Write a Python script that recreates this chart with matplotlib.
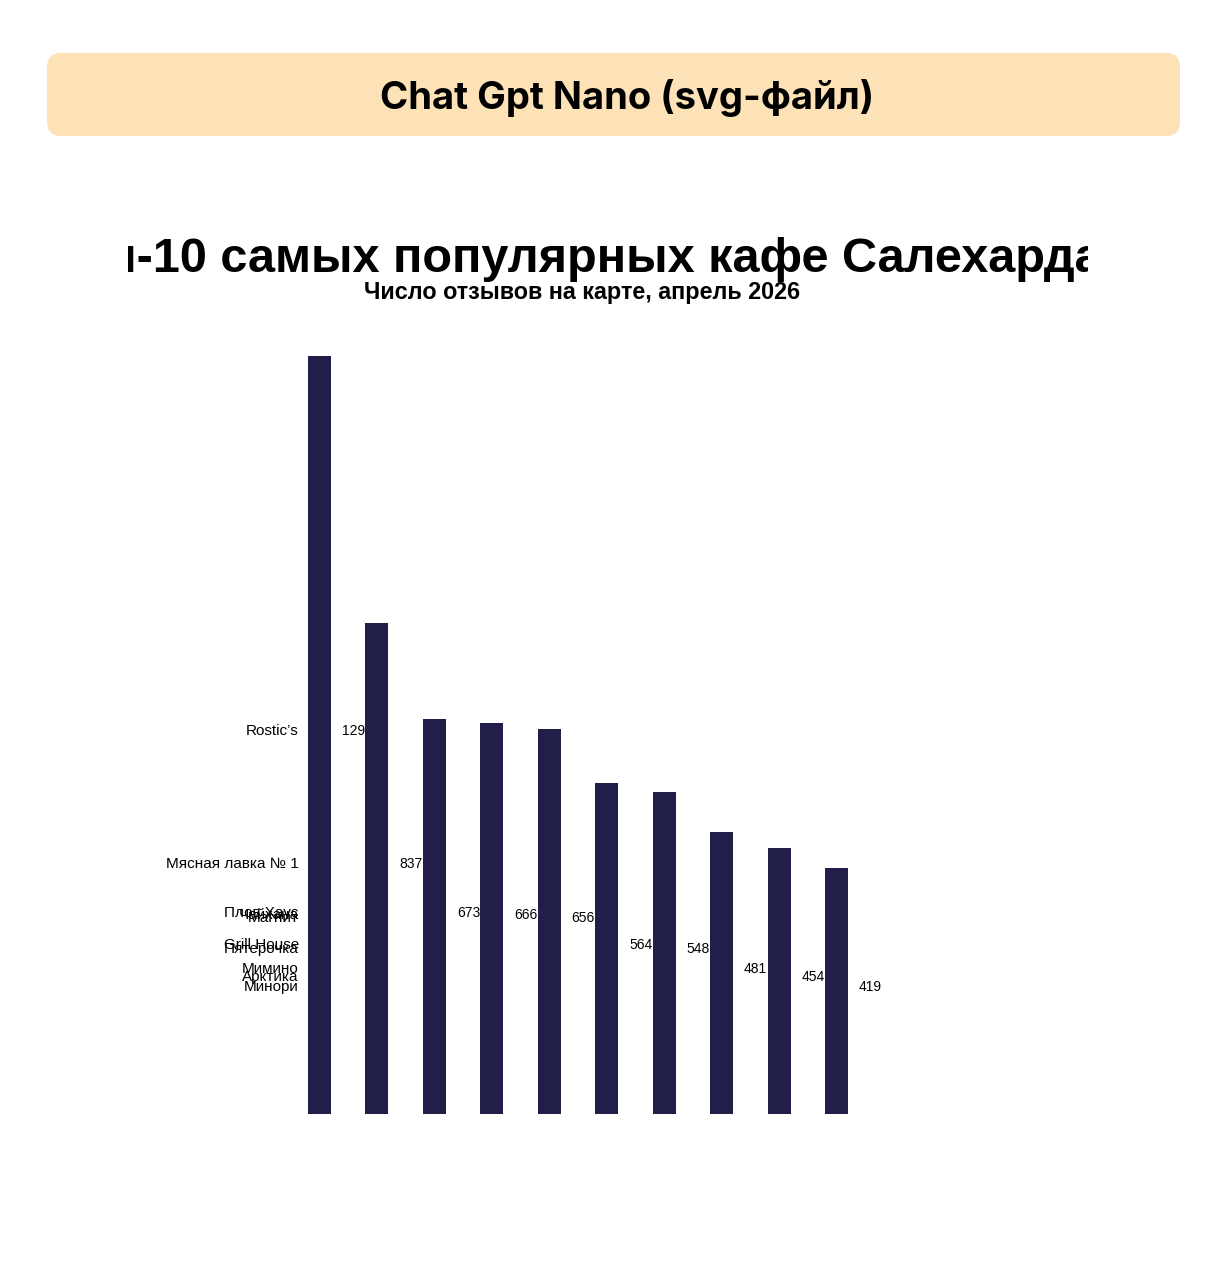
import matplotlib.pyplot as plt
import matplotlib.transforms as mtransforms
from matplotlib.patches import FancyBboxPatch

names = ['Rostic\u2019s', 'Мясная лавка № 1', 'Плов Хаус', 'Чайхана', 'Магнит',
         'Grill House', 'Пятерочка', 'Мимино', 'Арктика', 'Минори']
values = [1292, 837, 673, 666, 656, 564, 548, 481, 454, 419]

header = 'Chat Gpt Nano (svg-файл)'
title = 'Топ-10 самых популярных кафе Салехарда'
subtitle = 'Число отзывов на карте, апрель 2026'

W, H = 1227, 1280
fig = plt.figure(figsize=(W / 100, H / 100), dpi=100)
fig.patch.set_facecolor('white')
px = mtransforms.IdentityTransform()

# header box
box = FancyBboxPatch((47, H - 136), 1133, 83, boxstyle='round,pad=0,rounding_size=14',
                     transform=px, facecolor='#fde2b8', edgecolor='none')
fig.patches.append(box)
fig.text(627 / W, 1 - 98 / H, header, ha='center', va='center', fontsize=27.5,
         fontweight='bold', family=['Inter', 'DejaVu Sans'], color='black')

# clipped chart title
tax = fig.add_axes([128 / W, 1 - 290 / H, 960 / W, 70 / H])
tax.set_xlim(0, 960)
tax.set_ylim(290, 220)
tax.axis('off')
tax.text(576 - 128, 272, title, ha='center', va='baseline', fontsize=35.0,
         fontweight='bold', family=['Liberation Sans', 'DejaVu Sans'], clip_on=True)
fig.text(582 / W, 1 - 299 / H, subtitle, ha='center', va='baseline', fontsize=16.8,
         fontweight='bold', family=['Liberation Sans', 'DejaVu Sans'])

# bars
ax = fig.add_axes([262 / W, 1 - 1114 / H, 632 / W, 758 / H])
x = list(range(len(values)))
ax.bar(x, values, width=0.4, color='#221e4a', zorder=3)
ax.set_xlim(-1, 10)
ax.set_ylim(0, max(values))
ax.axis('off')

for i, (n, v) in enumerate(zip(names, values)):
    ax.text(-0.36, v / 2, n, ha='right', va='baseline', fontsize=11,
            family=['Liberation Sans', 'DejaVu Sans'], zorder=2, clip_on=False)
    ax.text(i + 0.39, v / 2, str(v), ha='left', va='baseline', fontsize=10,
            family=['Liberation Sans', 'DejaVu Sans'], zorder=2, clip_on=False)

fig.savefig('out.png', dpi=100)
